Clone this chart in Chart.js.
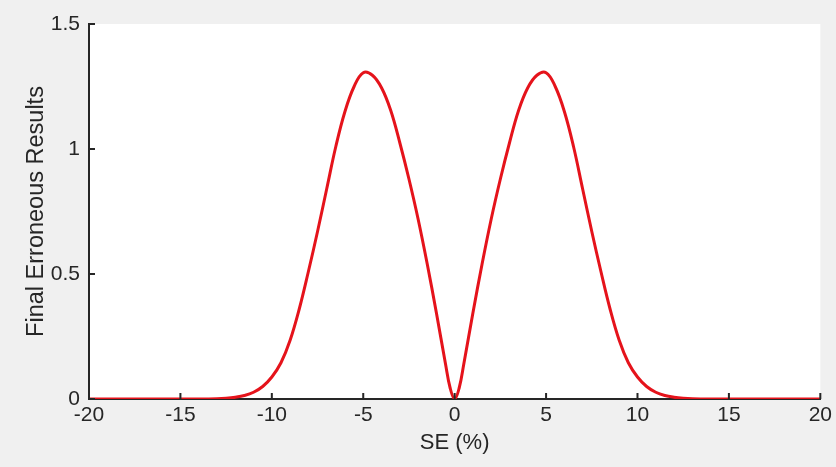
<!DOCTYPE html>
<html lang="en">
<head>
    <meta charset="UTF-8">
    <title>Final Erroneous Results vs SE</title>
    <style>
        body {
            margin: 0;
            background-color: #f0f0f0;
        }

        #chart-container {
            width: 836px;
            height: 467px;
        }
    </style>
</head>
<body>
    <div id="chart-container">
        <canvas id="err-chart" width="836" height="467"></canvas>
    </div>

    <script src="https://cdn.jsdelivr.net/npm/chart.js"></script>
    <script>
        // SE (%) sample positions, left half; right half mirrors it
        const seLeft = [-20, -18, -16, -14, -13, -12.5, -12, -11.5, -11, -10.5, -10, -9.5, -9, -8.5, -8, -7.5,
            -7, -6.5, -6, -5.5, -5, -4.5, -4, -3.5, -3, -2.5, -2, -1.5, -1, -0.5, -0.25];
        const errLeft = [0, 0, 0, 0, 0.001, 0.003, 0.007, 0.014, 0.027, 0.05, 0.088, 0.145, 0.235, 0.36, 0.51, 0.67,
            0.84, 1.01, 1.15, 1.25, 1.305, 1.295, 1.245, 1.155, 1.025, 0.88, 0.72, 0.54, 0.345, 0.14, 0.045];
        const seCenter = 0;
        const errCenter = 0;

        const xTicks = [-20, -15, -10, -5, 0, 5, 10, 15, 20];
        const yTicks = [0, 0.5, 1, 1.5];

        const axisColor = '#262626';
        const lineColor = '#e5131b';
        const fontFamily = 'Liberation Sans, Arial, sans-serif';

        // build the point list: left half, centre, mirrored right half
        const points = [];
        seLeft.forEach((x, i) => points.push({ x: x, y: errLeft[i] }));
        points.push({ x: seCenter, y: errCenter });
        for (let i = seLeft.length - 1; i >= 0; i--) {
            points.push({ x: -seLeft[i], y: errLeft[i] });
        }

        // white plot background
        const plotBackground = {
            id: 'plotBackground',
            beforeDraw(chart) {
                const { ctx, chartArea } = chart;
                ctx.save();
                ctx.fillStyle = '#ffffff';
                ctx.fillRect(chartArea.left, chartArea.top, chartArea.right - chartArea.left, chartArea.bottom - chartArea.top);
                ctx.restore();
            }
        };

        // inward tick marks, matlab style
        const inwardTicks = {
            id: 'inwardTicks',
            afterDatasetsDraw(chart) {
                const { ctx, chartArea, scales } = chart;
                const len = 6;
                ctx.save();
                ctx.strokeStyle = axisColor;
                ctx.lineWidth = 2;
                ctx.beginPath();
                scales.x.ticks.forEach(t => {
                    const px = scales.x.getPixelForValue(t.value);
                    ctx.moveTo(px, chartArea.bottom);
                    ctx.lineTo(px, chartArea.bottom - len);
                });
                scales.y.ticks.forEach(t => {
                    const py = scales.y.getPixelForValue(t.value);
                    ctx.moveTo(chartArea.left, py);
                    ctx.lineTo(chartArea.left + len, py);
                });
                ctx.stroke();
                ctx.restore();
            }
        };

        const ctx = document.getElementById('err-chart').getContext('2d');

        const chart = new Chart(ctx, {
            type: 'line',
            data: {
                datasets: [{
                    data: points,
                    borderColor: lineColor,
                    borderWidth: 3,
                    pointRadius: 0,
                    fill: false,
                    tension: 0.4
                }]
            },
            options: {
                responsive: false,
                animation: false,
                layout: {
                    padding: { top: 24, right: 14, left: 0, bottom: 0 }
                },
                plugins: {
                    legend: { display: false },
                    tooltip: { enabled: false }
                },
                scales: {
                    x: {
                        type: 'linear',
                        min: -20,
                        max: 20,
                        afterFit(scale) { scale.height = 68; },
                        afterBuildTicks(scale) { scale.ticks = xTicks.map(v => ({ value: v })); },
                        grid: { display: false, drawTicks: false },
                        border: { display: true, color: axisColor, width: 2 },
                        ticks: {
                            color: axisColor,
                            padding: 4,
                            maxRotation: 0,
                            callback: v => String(v),
                            font: { family: fontFamily, size: 21 }
                        },
                        title: {
                            display: true,
                            text: 'SE (%)',
                            color: axisColor,
                            padding: { top: 0, bottom: 11 },
                            font: { family: fontFamily, size: 22 }
                        }
                    },
                    y: {
                        min: 0,
                        max: 1.5,
                        afterFit(scale) { scale.width = 89; },
                        afterBuildTicks(scale) { scale.ticks = yTicks.map(v => ({ value: v })); },
                        grid: { display: false, drawTicks: false },
                        border: { display: true, color: axisColor, width: 2 },
                        ticks: {
                            color: axisColor,
                            padding: 9,
                            callback: v => String(v),
                            font: { family: fontFamily, size: 21 }
                        },
                        title: {
                            display: true,
                            text: 'Final Erroneous Results',
                            color: axisColor,
                            padding: { top: 22, bottom: 0 },
                            font: { family: fontFamily, size: 23.5 }
                        }
                    }
                }
            },
            plugins: [plotBackground, inwardTicks]
        });
    </script>
</body>
</html>
